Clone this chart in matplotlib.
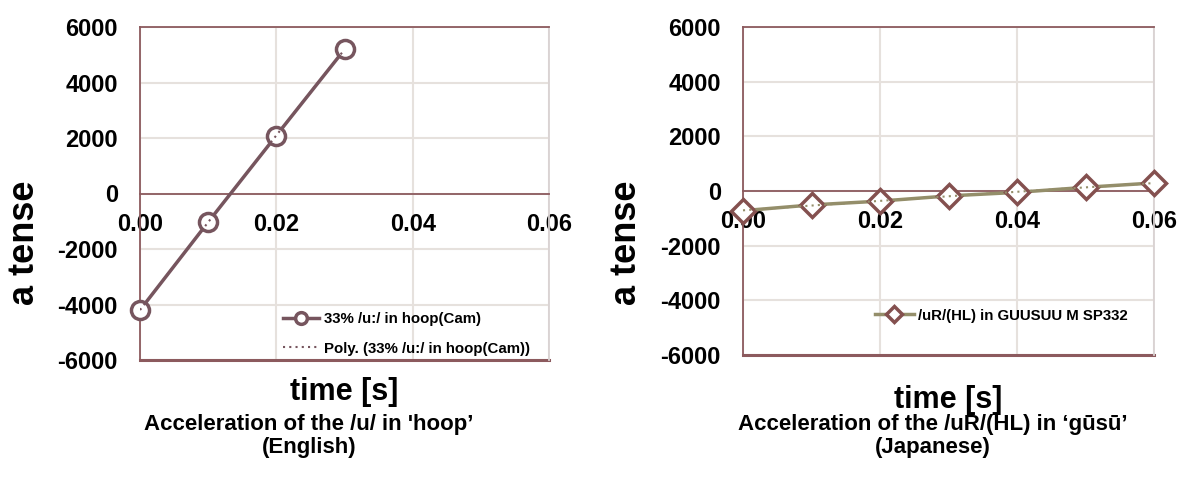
import numpy as np
import matplotlib
matplotlib.use("Agg")
import matplotlib.pyplot as plt

plt.rcParams['font.family'] = ['Liberation Sans', 'DejaVu Sans']
plt.rcParams['font.weight'] = 'bold'

# data
time_hoop = [0.00, 0.01, 0.02, 0.03]
acc_hoop = [-4200, -1030, 2090, 5190]
time_gusu = [0.00, 0.01, 0.02, 0.03, 0.04, 0.05, 0.06]
acc_gusu = [-720, -510, -370, -180, -50, 135, 295]

label_hoop = "33% /u:/ in hoop(Cam)"
label_hoop_fit = "Poly. (33% /u:/ in hoop(Cam))"
label_gusu = "/uR/(HL) in GUUSUU M SP332"
caption_hoop = "Acceleration of the /u/ in 'hoop\u2019\n(English)"
caption_gusu = "Acceleration of the /uR/(HL) in \u2018g\u016bs\u016b\u2019\n(Japanese)"

xticks = [0.00, 0.02, 0.04, 0.06]
yticks = [-6000, -4000, -2000, 0, 2000, 4000, 6000]

spine_col = '#8C5A5E'
grid_col = '#E6E1DD'
hoop_col = '#76555E'
gusu_line = '#948E6A'
gusu_edge = '#84504F'

W, H = 1180, 479
fig = plt.figure(figsize=(W / 100, H / 100), dpi=100)


def px_axes(x0, y0, x1, y1):
    return fig.add_axes([x0 / W, 1 - y1 / H, (x1 - x0) / W, (y1 - y0) / H])


def style(ax):
    ax.set_xlim(0, 0.06)
    ax.set_ylim(-6000, 6000)
    ax.set_xticks(xticks)
    ax.set_yticks(yticks)
    ax.set_xticklabels([f"{v:.2f}" for v in xticks])
    ax.set_yticklabels([str(v) for v in yticks])
    ax.grid(True, color=grid_col, linewidth=1.5, zorder=0)
    ax.set_axisbelow(True)
    ax.spines['bottom'].set_position(('data', 0))
    for s in ['bottom', 'left', 'top']:
        ax.spines[s].set_color(spine_col)
        ax.spines[s].set_linewidth(1.3)
    ax.spines['right'].set_color('#D9D2D2')
    ax.spines['right'].set_linewidth(1.3)
    ax.axhline(-6000, color=spine_col, linewidth=2.2, clip_on=False, zorder=1)
    ax.tick_params(axis='x', length=0, pad=14, labelsize=17)
    ax.tick_params(axis='y', length=0, pad=16, labelsize=17)
    for t in ax.get_xticklabels() + ax.get_yticklabels():
        t.set_fontweight('bold')


# left: hoop
ax1 = px_axes(140, 27, 549, 360)
style(ax1)
ax1.plot(time_hoop, acc_hoop, color=hoop_col, linewidth=2.5, marker='o',
         markersize=13, markerfacecolor='white', markeredgecolor=hoop_col,
         markeredgewidth=2.5, label=label_hoop, zorder=3, clip_on=False)
fit1 = np.polyfit(time_hoop, acc_hoop, 2)
tt1 = np.linspace(time_hoop[0], time_hoop[-1], 60)
ax1.plot(tt1, np.polyval(fit1, tt1), color=hoop_col, linewidth=1.5,
         linestyle=(0, (1, 2)), label=label_hoop_fit, zorder=4)
ax1.legend(loc='lower left', bbox_to_anchor=((278 - 140) / 409, 0.0),
           frameon=False, borderpad=0.3, borderaxespad=0, markerscale=0.65,
           handlelength=2.4, handletextpad=0.4, labelspacing=1.0,
           prop={'size': 10.8, 'weight': 'bold'})

# right: gusu
ax2 = px_axes(743, 27, 1154, 355)
style(ax2)
ax2.plot(time_gusu, acc_gusu, color=gusu_line, linewidth=2.5, marker='D',
         markersize=12, markerfacecolor='white', markeredgecolor=gusu_edge,
         markeredgewidth=2.5, label=label_gusu, zorder=3, clip_on=False)
fit2 = np.polyfit(time_gusu, acc_gusu, 2)
tt2 = np.linspace(time_gusu[0], time_gusu[-1], 80)
ax2.plot(tt2, np.polyval(fit2, tt2), color=gusu_line, linewidth=1.5,
         linestyle=(0, (1, 2)), zorder=4, clip_on=False)
ax2.legend(loc='lower left', bbox_to_anchor=((870 - 743) / 411, 0.085),
           frameon=False, borderpad=0.3, borderaxespad=0, markerscale=0.65,
           handlelength=2.6, handletextpad=0.3,
           prop={'size': 10.8, 'weight': 'bold'})

# axis titles and captions
for cx, lx, ty in [(344, 25, 392), (948, 627, 400)]:
    fig.text(cx / W, 1 - ty / H, "time [s]", ha='center', va='center',
             fontsize=22, fontweight='bold')
    fig.text(lx / W, 1 - 243 / H, "a tense", ha='center', va='center',
             rotation=90, fontsize=26, fontweight='bold')

fig.text(309 / W, 1 - 436 / H, caption_hoop, ha='center', va='center',
         fontsize=16, fontweight='bold', linespacing=1.1)
fig.text(933 / W, 1 - 436 / H, caption_gusu, ha='center', va='center',
         fontsize=16, fontweight='bold', linespacing=1.1)

fig.savefig("out.png", dpi=100)
